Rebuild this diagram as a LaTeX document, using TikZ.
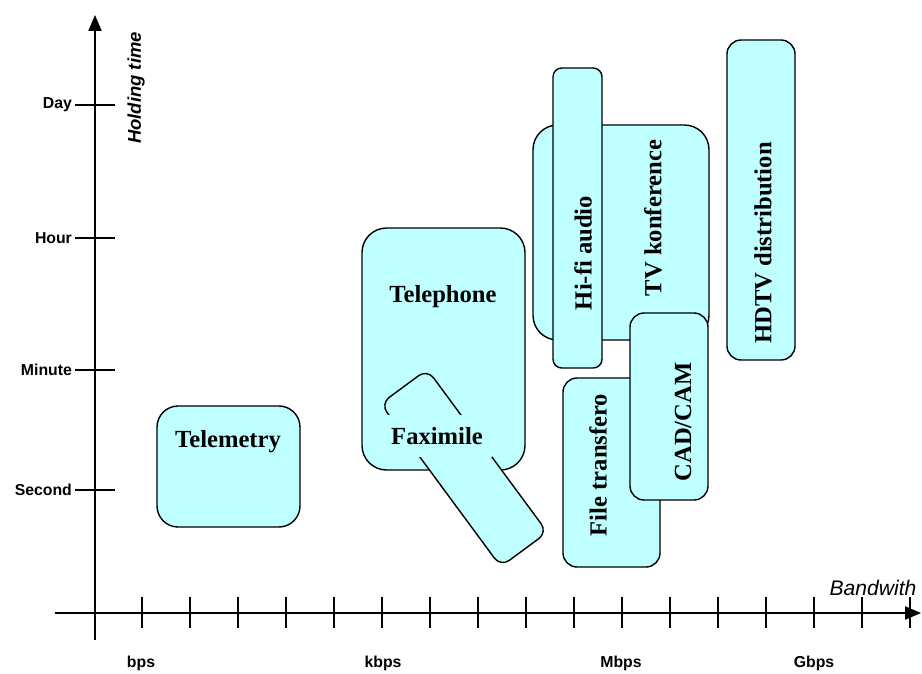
\documentclass[tikz,border=0pt]{standalone}
\usepackage{fontspec}
\setmainfont{Liberation Serif}
\setsansfont{Liberation Sans}
\usetikzlibrary{arrows}
\definecolor{svcfill}{RGB}{191,255,255}
\tikzset{
  svc/.style={draw=black,fill=svcfill,line width=0.8pt},
  svclabel/.style={font=\fontsize{14}{16}\selectfont\bfseries},
  unitlabel/.style={font=\sffamily\bfseries\fontsize{9}{10}\selectfont},
  axislabel/.style={font=\sffamily\itshape\fontsize{11}{12}\selectfont}
}

\begin{document}
\begin{tikzpicture}[x=0.02cm,y=-0.02cm]
\useasboundingbox (0,0) rectangle (922,673);
% axes
\draw[line width=1.1pt,-triangle 45] (95,640) -- (95,15);
\draw[line width=1.1pt,-triangle 45] (55,613) -- (921,613);
\foreach \x in {142,190,...,910}
  \draw[line width=0.9pt] (\x,597) -- (\x,628);
\foreach \y/\name/\txt in {105/lday/Day,238/lhour/Hour,370/lmin/Minute,490/lsec/Second}{
  \draw[line width=0.9pt] (75,\y) -- (115,\y);
  \node[unitlabel,anchor=east,inner sep=1pt] (\name) at (74,\y) {\txt};
}
\foreach \x/\name/\txt in {141/lbps/bps,383/lkbps/kbps,621/lmbps/Mbps,814/lgbps/Gbps}
  \node[unitlabel] (\name) at (\x,663) {\txt};
\node[axislabel,font=\sffamily\bfseries\itshape\fontsize{10.5}{12}\selectfont,rotate=90] (holding) at (136,88) {Holding time};
\node[axislabel,font=\sffamily\itshape\fontsize{12}{14}\selectfont] (bandw) at (873,588) {Bandwith};

% services
\draw[svc,rounded corners=12pt] (157,406) rectangle (300,527);
\node[svclabel] (telemetry) at (228,442) {Telemetry};

\draw[svc,rounded corners=14pt] (362,228) rectangle (525,470);
\node[svclabel] (telephone) at (443,297) {Telephone};
\node[svc,rounded corners=6pt,rotate=-53.6,minimum width=4.05cm,minimum height=1.16cm] (fax) at (464,468) {};
\node[svclabel,fill=svcfill,minimum width=2.2cm,minimum height=0.84cm] (faximile) at (437,436) {Faximile};

\draw[svc,rounded corners=14pt] (533,125) rectangle (709,340);
\node[svclabel,rotate=90] (tvkonf) at (653,218) {TV konference};
\draw[svc,rounded corners=5pt] (553,68) rectangle (602,368);
\node[svclabel,rotate=90] (hifi) at (583,253) {Hi-fi audio};

\draw[svc,rounded corners=8pt] (563,378) rectangle (660,567);
\node[svclabel,rotate=90] (filetr) at (598,465) {File transfero};
\draw[svc,rounded corners=8pt] (630,313) rectangle (708,500);
\node[svclabel,rotate=90] (cadcam) at (683,422) {CAD/CAM};

\draw[svc,rounded corners=8pt] (727,40) rectangle (795,360);
\node[svclabel,rotate=90] (hdtv) at (763,243) {HDTV distribution};
\end{tikzpicture}
\end{document}
